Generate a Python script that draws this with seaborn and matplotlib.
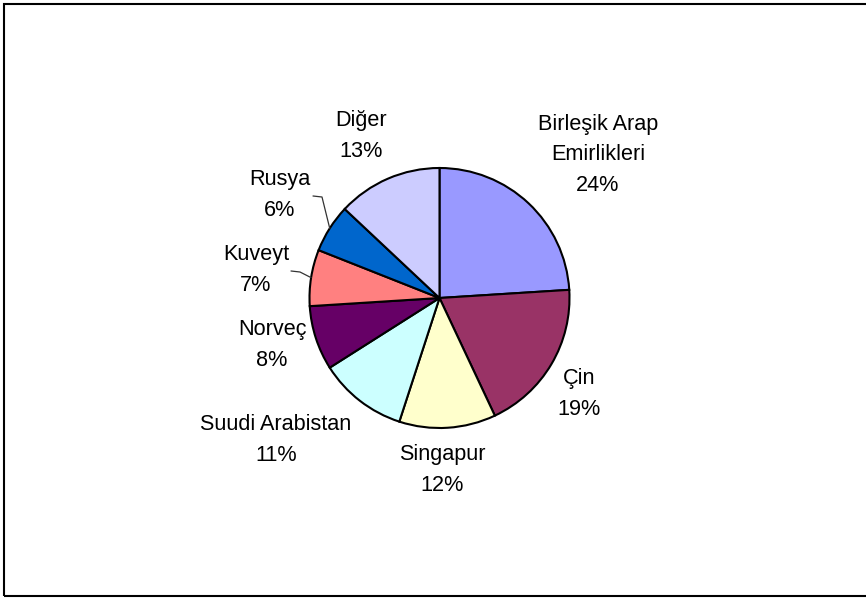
import numpy as np
import matplotlib
matplotlib.use("Agg")
import matplotlib.pyplot as plt
import seaborn as sns

# data
countries = ["Birleşik Arap\nEmirlikleri", "Çin", "Singapur", "Suudi Arabistan",
             "Norveç", "Kuveyt", "Rusya", "Diğer"]
shares = [24, 19, 12, 11, 8, 7, 6, 13]
colors = ["#9999FF", "#993366", "#FFFFCC", "#CCFFFF",
          "#660066", "#FF8080", "#0066CC", "#CCCCFF"]

# layout (pixel coords, y measured from top)
W, H = 866, 598
center_px = (439.5, 298)
radius_px = 130
label_pos = [(598, 155), (579, 394), (442, 470), (276, 440),
             (272, 345), (256, 270), (280, 195), (361, 136)]
leader_start = {6: (313, 196), 5: (291, 271)}  # Rusya, Kuveyt

sns.set_style("white")
plt.rcParams["font.family"] = ["Liberation Sans", "DejaVu Sans"]

fig = plt.figure(figsize=(W / 100, H / 100), dpi=100)
ax = fig.add_axes([0, 0, 1, 1])

def flip(p):
    return (p[0], H - p[1])

cx, cy = flip(center_px)
wedges, _ = ax.pie(shares, colors=colors, startangle=90, counterclock=False,
                   center=(cx, cy), radius=radius_px, frame=True,
                   wedgeprops=dict(edgecolor="black", linewidth=1.5))

for i, (name, v) in enumerate(zip(countries, shares)):
    x, y = flip(label_pos[i])
    ax.text(x, y, f"{name}\n{v}%", ha="center", va="center",
            fontsize=15.6, linespacing=1.62, color="black")

# leader lines for small slices
for i, start in leader_start.items():
    w = wedges[i]
    mid = np.deg2rad((w.theta1 + w.theta2) / 2)
    ex, ey = cx + radius_px * np.cos(mid), cy + radius_px * np.sin(mid)
    sx, sy = flip(start)
    ax.plot([sx, sx + 9, ex], [sy, sy - 1, ey], color="#333333", lw=0.9)

# chart border
ax.add_patch(plt.Rectangle((3.5, 2.5), 870, H - 6, fill=False,
                           edgecolor="black", lw=1.5, clip_on=True))

ax.set_xlim(0, W)
ax.set_ylim(0, H)
ax.set_aspect("auto")
ax.axis("off")

fig.savefig("out.png", dpi=100)
